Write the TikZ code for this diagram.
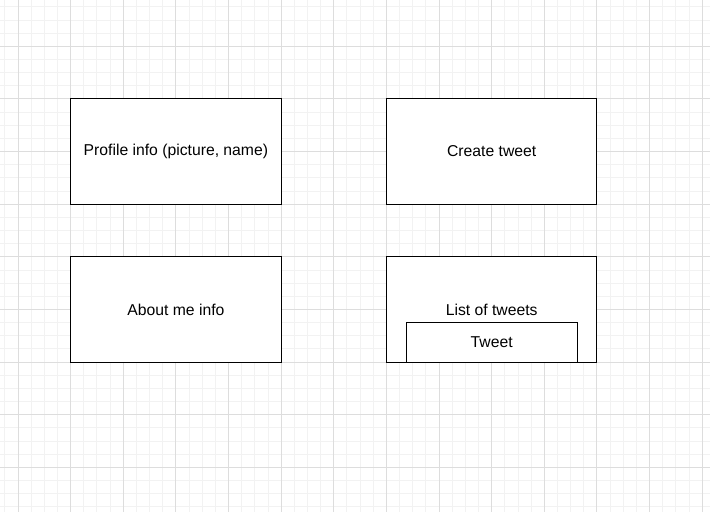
\documentclass[tikz,border=0pt]{standalone}
\usepackage{fontspec}
\setmainfont{Liberation Sans}
\usetikzlibrary{positioning}
\definecolor{minorgrid}{HTML}{F2F2F2}
\definecolor{majorgrid}{HTML}{DDDDDD}
\newcommand{\Paper}{
    \fill[white] (0,0) rectangle (13.49,9.709);
    \begin{scope}
        \clip (0,0) rectangle (13.49,9.709);
        \draw[minorgrid, line width=0.5pt, shift={(0.342,0.829)}] (-1,-1) grid[step=0.25] (14,10);
        \draw[majorgrid, line width=0.5pt, shift={(0.342,0.829)}] (-1,-1) grid[step=1] (14,10);
    \end{scope}
}
\tikzset{
    section/.style={draw=black, fill=white, line width=0.55pt, inner sep=0pt,
        minimum width=4cm, minimum height=2cm, font=\fontsize{8.5}{10}\selectfont},
    item/.style={section, minimum width=3.25cm, minimum height=0.75cm}
}

\begin{document}
\begin{tikzpicture}
    \useasboundingbox (0,0) rectangle (13.49,9.709);
    \Paper
    \node[section] (profile) at (3.342,6.829) {Profile info (picture, name)};
    \node[section] (create) at (9.342,6.829) {Create tweet};
    \node[section] (about) at (3.342,3.829) {About me info};
    \node[section] (list) at (9.342,3.829) {List of tweets};
    \node[item, anchor=south] (tweet) at (list.south) {Tweet};
\end{tikzpicture}
\end{document}
